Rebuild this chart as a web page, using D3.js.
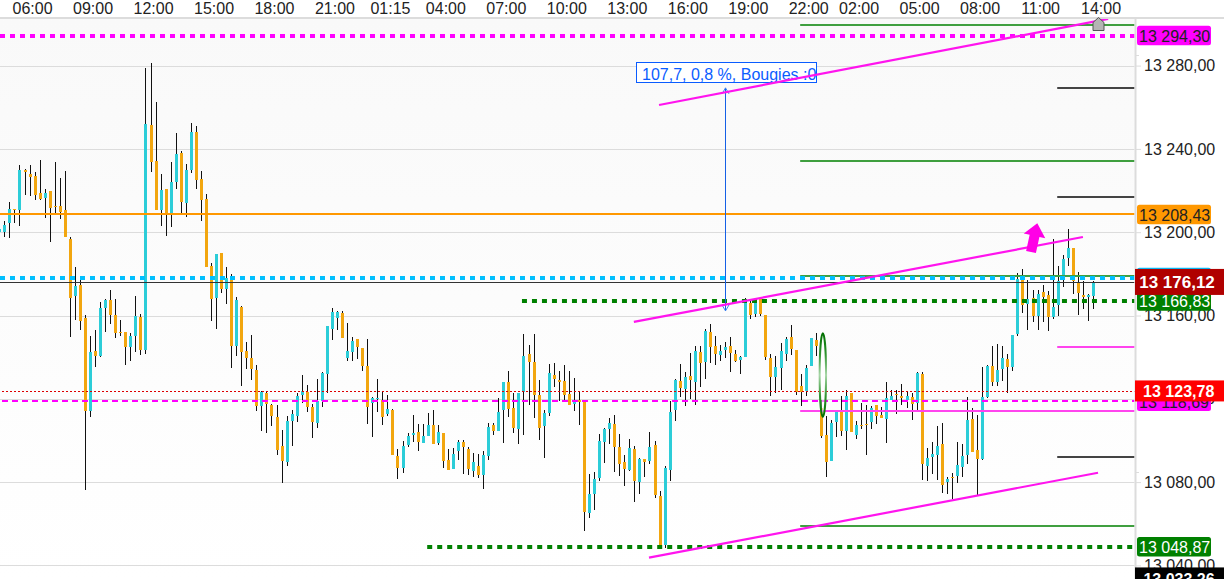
<!DOCTYPE html>
<html>
<head>
<meta charset="utf-8">
<script src="https://cdn.jsdelivr.net/npm/d3@7/dist/d3.min.js"></script>
<style>
    html, body { margin: 0; padding: 0; background: #fff; overflow: hidden; }
    text { font-family: "Liberation Sans", Arial, sans-serif; font-size: 16px; }
</style>
</head>
<body>
<div id="chart"></div>
<script>
const highs = [13202.1,13205.4,13214.5,13211.2,13232.3,13230.4,13232.3,13228.9,13234.7,13220.8,13219.8,13233.8,13226.1,13229.4,13197.7,13183.3,13177.1,13160.3,13150.2,13153.1,
13166.5,13168.0,13172.3,13168.0,13157.9,13152.1,13151.7,13169.4,13160.8,13278.9,13281.3,13262.5,13228.0,13220.8,13233.8,13247.7,13239.0,13232.8,13252.5,13251.0,
13229.4,13218.4,13185.3,13189.6,13190.1,13183.3,13180.0,13168.9,13164.6,13147.3,13150.7,13136.3,13123.8,13123.8,13117.6,13117.1,13105.1,13111.8,13114.7,13122.9,
13131.5,13126.7,13117.6,13129.6,13133.0,13155.0,13163.7,13162.2,13162.2,13156.5,13149.7,13148.8,13144.5,13148.8,13120.9,13129.6,13123.3,13121.9,13115.2,13096.0,
13099.8,13103.7,13112.3,13108.0,13108.0,13113.3,13114.7,13107.5,13103.7,13096.0,13096.5,13100.3,13100.3,13096.9,13094.1,13093.6,13095.0,13108.5,13108.5,13120.5,
13128.1,13133.4,13122.9,13122.9,13151.2,13145.9,13151.2,13129.1,13114.7,13136.8,13137.3,13133.4,13136.3,13133.4,13130.1,13123.8,13118.5,13084.0,13085.0,13103.2,
13106.1,13110.9,13112.3,13103.2,13093.1,13100.8,13097.4,13091.7,13091.2,13104.1,13099.8,13075.8,13087.8,13119.0,13129.6,13136.8,13133.0,13142.1,13145.4,13145.4,
13153.6,13156.0,13150.2,13145.9,13147.3,13149.7,13143.5,13140.6,13168.5,13167.5,13168.0,13168.0,13160.3,13141.6,13140.6,13146.9,13149.7,13155.5,13143.5,13132.0,
13136.3,13149.2,13151.7,13119.5,13111.8,13109.9,13114.2,13121.4,13124.3,13122.9,13109.4,13118.1,13117.1,13116.6,13117.1,13116.1,13128.1,13124.3,13124.3,13127.2,
13123.3,13122.9,13133.0,13133.0,13096.5,13099.3,13107.0,13108.5,13082.5,13084.5,13099.3,13098.4,13120.9,13115.7,13112.3,13135.3,13136.3,13145.4,13146.4,13145.4,
13141.6,13150.7,13180.5,13182.4,13177.1,13172.3,13172.3,13174.7,13171.8,13196.8,13183.8,13189.1,13201.6,13192.5,13180.9,13176.6,13170.4,13176.6];

const lows = [13199.2,13197.7,13197.3,13204.5,13203.0,13217.9,13217.4,13215.5,13215.5,13206.9,13195.3,13208.8,13206.4,13197.7,13149.7,13157.9,13153.1,13076.3,13111.3,13135.3,
13140.1,13152.1,13156.0,13149.3,13150.2,13136.3,13138.2,13142.5,13141.1,13141.6,13228.9,13210.7,13203.0,13198.2,13202.5,13220.8,13209.3,13207.3,13228.5,13220.8,
13205.4,13183.3,13157.4,13153.6,13170.9,13165.6,13134.9,13140.6,13126.2,13134.4,13129.1,13114.2,13104.6,13103.7,13107.0,13093.1,13079.7,13087.8,13097.4,13108.9,
13118.1,13113.7,13101.3,13106.1,13116.1,13122.9,13148.3,13153.1,13149.3,13138.2,13138.2,13139.2,13133.4,13108.0,13101.7,13113.7,13107.5,13111.8,13093.1,13081.6,
13084.5,13096.9,13099.3,13095.0,13098.9,13102.2,13098.4,13097.9,13086.9,13085.9,13086.4,13090.7,13084.0,13083.5,13082.5,13082.1,13076.8,13090.7,13102.7,13104.6,
13098.9,13111.3,13103.7,13098.4,13102.7,13117.1,13110.9,13100.3,13091.7,13111.8,13125.7,13119.0,13119.0,13117.1,13114.2,13107.5,13056.6,13062.9,13066.7,13080.6,
13089.3,13098.4,13085.0,13083.0,13078.2,13085.4,13070.5,13074.4,13082.5,13088.8,13072.5,13049.0,13048.5,13080.6,13109.4,13120.9,13116.6,13120.0,13117.1,13125.7,
13129.6,13137.3,13136.3,13138.2,13139.7,13133.0,13137.7,13132.0,13140.1,13158.4,13159.3,13159.8,13138.7,13121.4,13122.9,13124.3,13138.2,13141.1,13121.9,13116.6,
13121.4,13135.8,13140.6,13101.3,13082.5,13090.2,13101.7,13102.2,13095.5,13104.1,13100.8,13105.6,13093.1,13105.6,13108.0,13110.9,13098.9,13119.5,13112.8,13117.1,
13115.7,13109.9,13113.7,13081.1,13080.6,13084.0,13081.1,13074.9,13074.4,13072.0,13079.7,13082.5,13088.8,13094.5,13073.4,13090.7,13120.5,13126.2,13126.2,13128.6,
13122.9,13133.4,13150.2,13161.3,13153.1,13156.9,13153.1,13156.9,13152.6,13158.4,13159.8,13173.7,13183.8,13170.4,13160.3,13163.2,13157.4,13163.2];

const opens = [13200.1,13200.1,13204.5,13211.2,13210.7,13229.9,13228.0,13227.0,13218.9,13216.5,13219.8,13212.6,13212.6,13210.7,13196.8,13169.4,13174.7,13158.9,13114.2,13143.0,
13140.6,13163.7,13167.5,13160.3,13152.1,13152.1,13144.9,13150.2,13159.3,13143.5,13251.5,13234.2,13210.7,13220.8,13209.3,13224.1,13238.1,13214.1,13229.9,13248.1,
13225.6,13216.0,13183.8,13168.5,13190.1,13172.8,13178.1,13145.4,13164.1,13143.0,13139.7,13133.9,13116.6,13122.9,13117.1,13111.3,13097.4,13089.7,13109.4,13111.8,
13121.9,13123.3,13116.1,13108.5,13119.0,13132.0,13153.6,13158.9,13161.3,13139.7,13142.5,13148.8,13144.5,13135.8,13118.1,13120.0,13119.5,13112.8,13114.7,13092.6,
13086.9,13097.9,13102.7,13104.1,13098.9,13102.2,13107.5,13098.9,13103.7,13090.7,13086.4,13095.0,13099.3,13096.0,13085.4,13087.8,13083.5,13092.6,13107.5,13104.6,
13114.7,13128.1,13115.7,13105.6,13123.3,13141.6,13137.7,13121.9,13107.0,13113.3,13131.5,13129.1,13128.6,13122.4,13117.6,13119.5,13118.5,13065.3,13074.4,13082.1,
13099.3,13105.6,13108.0,13096.9,13089.7,13085.9,13096.0,13080.1,13091.2,13090.2,13097.9,13073.4,13049.9,13085.9,13114.7,13128.6,13124.8,13131.0,13128.1,13142.5,
13137.7,13152.1,13145.4,13141.1,13143.5,13145.4,13141.6,13138.7,13140.1,13166.1,13160.8,13168.0,13160.3,13139.7,13130.5,13134.9,13141.6,13149.7,13143.5,13126.2,
13123.8,13135.8,13148.3,13115.7,13102.7,13090.2,13108.9,13113.7,13104.6,13122.9,13102.7,13107.5,13108.0,13108.9,13117.1,13112.3,13110.4,13119.5,13122.4,13121.4,
13119.5,13120.9,13118.1,13132.0,13087.8,13092.1,13093.1,13098.4,13080.1,13082.5,13083.0,13087.3,13093.1,13110.4,13095.5,13091.2,13120.9,13135.8,13128.1,13134.4,
13139.2,13135.3,13151.2,13177.1,13165.6,13168.5,13159.8,13171.3,13169.9,13159.3,13165.1,13177.1,13187.7,13192.5,13175.7,13169.9,13168.9,13169.4];

const closes = [13201.6,13203.5,13211.2,13210.7,13229.9,13228.9,13226.5,13217.9,13216.0,13218.9,13211.7,13212.1,13209.7,13197.7,13168.5,13174.2,13157.4,13114.2,13142.5,13140.6,
13163.7,13167.5,13160.3,13151.7,13151.7,13144.9,13150.2,13159.8,13143.5,13252.0,13233.8,13210.7,13220.3,13209.3,13224.1,13237.6,13214.5,13229.9,13248.1,13225.1,
13215.5,13183.3,13168.0,13189.6,13172.8,13178.1,13145.4,13167.5,13142.5,13139.7,13134.4,13116.6,13123.3,13117.6,13111.8,13095.5,13090.2,13109.4,13112.8,13121.4,
13123.8,13116.1,13108.9,13119.0,13132.5,13155.0,13161.7,13161.7,13149.3,13143.0,13147.8,13144.9,13135.8,13116.1,13120.5,13120.5,13111.3,13115.2,13093.1,13086.9,
13097.4,13102.2,13103.7,13099.3,13102.2,13107.5,13098.4,13104.1,13090.2,13085.9,13093.6,13099.3,13096.9,13086.4,13089.7,13083.5,13093.1,13106.5,13104.6,13113.7,
13128.1,13115.2,13106.1,13122.9,13140.6,13137.7,13121.9,13106.1,13113.3,13132.5,13129.6,13128.1,13121.9,13117.1,13119.0,13118.5,13065.7,13074.4,13081.6,13099.8,
13105.6,13108.5,13096.9,13088.8,13086.4,13096.5,13080.6,13091.2,13089.7,13096.9,13073.9,13049.0,13086.9,13113.7,13129.1,13125.3,13130.5,13129.1,13143.0,13137.3,
13152.6,13144.9,13141.6,13143.0,13144.9,13142.1,13138.2,13140.1,13167.0,13160.3,13168.0,13160.8,13140.1,13130.5,13135.3,13143.0,13148.8,13144.0,13123.3,13123.3,
13134.9,13149.2,13145.4,13102.2,13089.7,13108.5,13113.7,13104.6,13121.4,13104.1,13107.5,13107.0,13107.5,13115.7,13111.8,13110.9,13120.5,13121.4,13121.9,13120.5,
13121.4,13117.6,13132.5,13088.8,13091.7,13093.6,13097.4,13078.7,13081.6,13082.1,13088.3,13092.6,13109.9,13094.5,13091.2,13120.9,13135.8,13128.1,13133.9,13139.7,
13135.3,13150.7,13177.6,13165.1,13168.0,13159.8,13170.4,13168.9,13159.3,13164.1,13176.6,13187.2,13192.5,13176.6,13170.9,13168.9,13169.9,13175.7];

const timeTicks = [6.5,18.5,30.5,42.5,54.5,66.5,77.5,88.5,100.5,112.5,124.5,136.5,148.5,160.5,170.5,182.5,194.5,206.5,218.5];
const timeLabels = ['06:00','09:00','12:00','15:00','18:00','21:00','01:15','04:00','07:00','10:00','13:00','16:00','19:00','22:00','02:00','05:00','08:00','11:00','14:00'];
const priceTicks = [13280,13240,13200,13160,13120,13080,13040];
const minorTicks = [13285,13085];

// [start bar, price]
const greenDashed = [[103.7,13166.83],[84.9,13048.87]];
const greenLevels = [13299.3,13234.0,13178.8,13058.8];
const darkLevels = [13269.0,13216.7,13091.8];
const pinkLevels = [13144.7];
const pinkLevelsLong = [13113.9];
const segmentStartLong = 158.9;
const segmentStartShort = 209.9;

// [bar0, price0, bar1, price1]
const trendLines = [
    [130.9,13261.1,220,13302.4],
    [125.9,13156.9,215,13197.7],
    [128.9,13043.7,218,13084.5]
];

const arrowBars = [204.7,205.95];
const arrowPrices = [13190.5,13204.3];
const rulerBar = 144;
const rulerPrices = [13269.3,13162.2];
const rulerText = '107,7, 0,8 %, Bougies :0';
const ellipseBar = 163.4;
const ellipsePrices = [13151.5,13111.3];
const houseBar = 218;
const housePrice = 13296.9;

const width = 1224, height = 579;
const plotRight = 1135;

const x = d3.scaleLinear().domain([0, 217]).range([-0.7, 1093]);
const y = d3.scaleLinear().domain([13040, 13280]).range([565.4, 65.6]);

const frFormat = d3.formatLocale({ decimal: ',', thousands: ' ', grouping: [3], currency: ['', ''] }).format(',.2f');

const svg = d3.select('#chart').append('svg')
    .attr('width', width)
    .attr('height', height)
    .style('display', 'block');

const defs = svg.append('defs');
const grad = defs.append('linearGradient')
    .attr('id', 'bg')
    .attr('x1', 0).attr('x2', 0).attr('y1', 0).attr('y2', 1);
grad.append('stop').attr('offset', '0%').attr('stop-color', '#f9f9f9');
grad.append('stop').attr('offset', '100%').attr('stop-color', '#ffffff');

const ringGrad = defs.append('linearGradient')
    .attr('id', 'ring')
    .attr('x1', 0).attr('x2', 0).attr('y1', 0).attr('y2', 1);
ringGrad.append('stop').attr('offset', '0%').attr('stop-color', '#006f00');
ringGrad.append('stop').attr('offset', '25%').attr('stop-color', '#2f942f');
ringGrad.append('stop').attr('offset', '50%').attr('stop-color', '#a8d6a8');
ringGrad.append('stop').attr('offset', '75%').attr('stop-color', '#2f942f');
ringGrad.append('stop').attr('offset', '100%').attr('stop-color', '#006f00');

svg.append('rect')
    .attr('x', 0).attr('y', 18)
    .attr('width', plotRight).attr('height', height - 18)
    .attr('fill', 'url(#bg)');

// grid
svg.append('g').selectAll('line')
    .data(priceTicks)
    .join('line')
    .attr('x1', 0).attr('x2', plotRight + 6)
    .attr('y1', d => Math.round(y(d)) + 0.5)
    .attr('y2', d => Math.round(y(d)) + 0.5)
    .attr('stroke', '#dcdcdc');

// candles
const bars = d3.range(highs.length);
const candles = svg.append('g');
candles.selectAll('rect.wick')
    .data(bars)
    .join('rect')
    .attr('class', 'wick')
    .attr('x', i => Math.round(x(i)))
    .attr('width', 1)
    .attr('y', i => Math.round(y(highs[i])))
    .attr('height', i => Math.round(y(lows[i])) - Math.round(y(highs[i])))
    .attr('fill', '#111');
candles.selectAll('rect.body')
    .data(bars)
    .join('rect')
    .attr('class', 'body')
    .attr('x', i => Math.round(x(i)) - 1)
    .attr('width', 3)
    .attr('y', i => Math.round(y(Math.max(opens[i], closes[i]))))
    .attr('height', i => Math.max(1, Math.round(y(Math.min(opens[i], closes[i]))) - Math.round(y(Math.max(opens[i], closes[i])))))
    .attr('fill', i => closes[i] >= opens[i] ? '#2ccdd8' : '#f2a60f');

// horizontal levels, snapped to whole pixels so they stay sharp
const snap = (v, w) => {
    if (w === 1) return Math.round(v) + 0.5;
    if (w === 4) return Math.round(v);
    return Math.floor(v);
};
const hline = (price, x0, x1, color, w, dash) => {
    const yy = snap(y(price), w);
    svg.append('line')
        .attr('x1', x0).attr('x2', x1)
        .attr('y1', yy).attr('y2', yy)
        .attr('stroke', color)
        .attr('stroke-width', w)
        .attr('stroke-dasharray', dash || null);
};

hline(13123.78, 2, plotRight, '#dd0000', 1, '2 2');
hline(13118.69, 2, plotRight, '#ff00ff', 2, '6 4');
hline(13294.30, 0, plotRight, '#ff00ff', 4, '5 5');
hline(13208.43, 0, plotRight, '#ff9800', 2);
hline(13176.12, 0, plotRight, '#333333', 1);
greenDashed.forEach(d => hline(d[1], x(d[0]), plotRight, '#008000', 4, '5 5'));

greenLevels.forEach(d => hline(d, x(segmentStartLong), plotRight, '#3f9f3f', 2));
pinkLevelsLong.forEach(d => hline(d, x(segmentStartLong), plotRight, '#ff44ee', 2));
darkLevels.forEach(d => hline(d, x(segmentStartShort), plotRight, '#444444', 2));
pinkLevels.forEach(d => hline(d, x(segmentStartShort), plotRight, '#ff44ee', 2));
hline(13178.1, 0, plotRight, '#00bfff', 4, '5 5');

// ruler with text box
const rulerX = Math.round(x(rulerBar)) + 0.5;
const rulerTop = y(rulerPrices[0]), rulerBottom = y(rulerPrices[1]);
svg.append('line')
    .attr('x1', rulerX).attr('x2', rulerX)
    .attr('y1', rulerTop).attr('y2', rulerBottom)
    .attr('stroke', '#1560e6');
svg.append('path')
    .attr('d', `M${rulerX - 3.5},${rulerTop + 6}L${rulerX},${rulerTop}L${rulerX + 3.5},${rulerTop + 6}`
        + `M${rulerX - 3.5},${rulerBottom - 6}L${rulerX},${rulerBottom}L${rulerX + 3.5},${rulerBottom - 6}`)
    .attr('fill', 'none')
    .attr('stroke', '#3c82f0');

const boxX = rulerX - 89, boxY = Math.round(rulerTop - 26) + 0.5;
defs.append('clipPath').attr('id', 'boxClip')
    .append('rect')
    .attr('x', boxX).attr('y', boxY)
    .attr('width', 180).attr('height', 20);
svg.append('rect')
    .attr('x', boxX).attr('y', boxY)
    .attr('width', 180).attr('height', 20)
    .attr('fill', '#fff')
    .attr('stroke', '#0a5cff');
svg.append('text')
    .attr('x', boxX + 5.5)
    .attr('y', boxY + 17.5)
    .attr('fill', '#0a5cff')
    .attr('clip-path', 'url(#boxClip)')
    .text(rulerText);

// trend lines
svg.append('g').selectAll('line')
    .data(trendLines)
    .join('line')
    .attr('x1', d => x(d[0])).attr('y1', d => y(d[1]))
    .attr('x2', d => x(d[2])).attr('y2', d => y(d[3]))
    .attr('stroke', '#ff14ee')
    .attr('stroke-width', 2.2);

// green ellipse
const ey0 = y(ellipsePrices[0]), ey1 = y(ellipsePrices[1]);
svg.append('ellipse')
    .attr('cx', x(ellipseBar))
    .attr('cy', (ey0 + ey1) / 2)
    .attr('rx', 3.2)
    .attr('ry', (ey1 - ey0) / 2)
    .attr('fill', 'rgba(255,255,255,0.5)')
    .attr('stroke', 'url(#ring)')
    .attr('stroke-width', 2);

// pink arrow
const ax0 = x(arrowBars[0]), ay0 = y(arrowPrices[0]);
const ax1 = x(arrowBars[1]), ay1 = y(arrowPrices[1]);
const len = Math.hypot(ax1 - ax0, ay1 - ay0);
const ux = (ax1 - ax0) / len, uy = (ay1 - ay0) / len;
const px = -uy, py = ux;
const pt = (along, side) => [ax0 + ux * along + px * side, ay0 + uy * along + py * side];
const headAt = len - 13;
svg.append('path')
    .attr('d', d3.line()([
        pt(0, -5), pt(headAt, -5), pt(headAt, -11), pt(len, 0),
        pt(headAt, 11), pt(headAt, 5), pt(0, 5)
    ]) + 'Z')
    .attr('fill', '#ff00e6');

// frame
svg.append('rect')
    .attr('x', 0).attr('y', 0)
    .attr('width', width).attr('height', 17)
    .attr('fill', '#fff');
svg.append('rect')
    .attr('x', plotRight - 0.5).attr('y', 18)
    .attr('width', width - plotRight).attr('height', height - 18)
    .attr('fill', '#fff');
svg.append('rect')
    .attr('x', 0).attr('y', 17)
    .attr('width', width).attr('height', 2)
    .attr('fill', '#dcdcdc');
svg.append('rect')
    .attr('x', plotRight - 0.5).attr('y', 18)
    .attr('width', 2).attr('height', height - 18)
    .attr('fill', '#dcdcdc');

// house marker
const hx = Math.round(x(houseBar)) + 0.5, hy = Math.round(y(housePrice)) + 0.5;
svg.append('path')
    .attr('d', `M${hx - 5.5},${hy}V${hy - 8}L${hx},${hy - 13}L${hx + 5.5},${hy - 8}V${hy}Z`)
    .attr('fill', '#b4b4b4')
    .attr('stroke', '#555');

// axes
const xAxis = d3.axisTop(x)
    .tickValues(timeTicks)
    .tickFormat((d, i) => timeLabels[i])
    .tickSize(0)
    .tickPadding(3);
svg.append('g')
    .attr('transform', 'translate(0,17)')
    .call(xAxis)
    .call(g => g.select('.domain').remove())
    .selectAll('text')
    .attr('fill', '#222')
    .style('font-size', '16px')
    .style('font-family', '"Liberation Sans", Arial, sans-serif');

const yAxis = d3.axisRight(y)
    .tickValues(priceTicks)
    .tickFormat(frFormat)
    .tickSize(6)
    .tickPadding(3);
svg.append('g')
    .attr('transform', `translate(${plotRight},0)`)
    .call(yAxis)
    .call(g => g.select('.domain').remove())
    .call(g => g.selectAll('line').attr('stroke', '#dcdcdc'))
    .selectAll('text')
    .attr('fill', '#222')
    .style('font-size', '16px')
    .style('font-family', '"Liberation Sans", Arial, sans-serif');

svg.append('g').selectAll('line')
    .data(minorTicks)
    .join('line')
    .attr('x1', plotRight).attr('x2', plotRight + 4)
    .attr('y1', d => Math.round(y(d)) + 0.5)
    .attr('y2', d => Math.round(y(d)) + 0.5)
    .attr('stroke', '#dcdcdc');

// price labels, last ones sit on top
const smallTags = [
    [13294.30, '#ff00ff', '#222'],
    [13208.43, '#ff9800', '#222'],
    [13178.10, '#00bfff', '#222'],
    [13118.69, '#ff00ff', '#222'],
    [13166.83, '#008000', '#fff'],
    [13048.87, '#008000', '#fff']
];
smallTags.forEach(d => {
    const yy = y(d[0]);
    svg.append('rect')
        .attr('x', 1137).attr('y', yy - 10)
        .attr('width', 74).attr('height', 19.5)
        .attr('rx', 2.5)
        .attr('fill', d[1]);
    svg.append('text')
        .attr('x', 1139).attr('y', yy + 6)
        .attr('fill', d[2])
        .text(frFormat(d[0]));
});

const bigTags = [
    [13123.78, '#ff0000', 21, 16, 1178.7],
    [13176.12, '#b00000', 26, 17, 1177],
    [13033.26, '#000000', 24, 16, 1179]
];
bigTags.forEach(d => {
    const yy = y(d[0]);
    svg.append('rect')
        .attr('x', plotRight).attr('y', yy - d[2] / 2)
        .attr('width', width - plotRight).attr('height', d[2])
        .attr('fill', d[1]);
    svg.append('text')
        .attr('x', d[4]).attr('y', yy + 6)
        .attr('text-anchor', 'middle')
        .attr('fill', '#fff')
        .attr('font-weight', 'bold')
        .style('font-size', d[3] + 'px')
        .text(frFormat(d[0]));
});
</script>
</body>
</html>
